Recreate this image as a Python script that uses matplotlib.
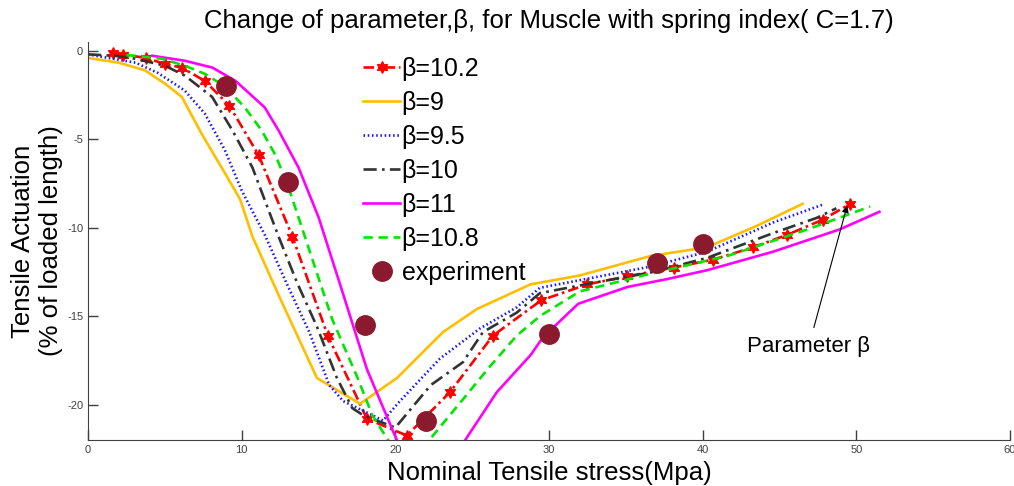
import matplotlib.pyplot as plt

plt.rcParams['font.family'] = ['Liberation Sans', 'DejaVu Sans']
plt.rcParams['axes.unicode_minus'] = False

# simulated actuation curves, stress (MPa) vs actuation (% of loaded length)
b102_x = [1.6, 2.3, 3.8, 5.0, 6.1, 7.6, 9.2, 11.1, 13.3, 15.6, 18.15, 20.75, 23.55, 26.35,
          29.5, 32.5, 35.1, 38.1, 40.7, 43.3, 45.5, 47.8, 49.6]
b102_y = [-0.12, -0.22, -0.4, -0.75, -0.95, -1.7, -3.1, -5.9, -10.5, -16.1, -20.8, -21.75, -19.3, -16.1,
          -14.1, -13.2, -12.75, -12.25, -11.8, -11.1, -10.4, -9.55, -8.65]

b9_x = [0, 2.0, 3.7, 5.0, 6.1, 7.4, 8.9, 9.9, 10.7, 12.5, 14.9, 17.7, 20.1, 23.1, 25.3, 28.8,
        32.0, 36.6, 40.3, 43.5, 46.5]
b9_y = [-0.4, -0.67, -1.1, -1.85, -2.6, -4.7, -6.9, -8.4, -10.5, -14.0, -18.5, -19.95, -18.5, -15.9, -14.6, -13.2,
        -12.7, -11.6, -11.1, -9.9, -8.65]

b95_x = [0, 3.1, 4.55, 6.3, 7.6, 8.9, 10.0, 11.5, 12.9, 14.4, 15.7, 16.6, 19.2, 20.3, 22.9,
         25.5, 27.9, 29.4, 33.0, 36.6, 40.3, 44.6, 47.8]
b95_y = [-0.2, -0.67, -1.25, -2.25, -3.55, -5.6, -7.9, -10.4, -13.1, -15.9, -18.9, -19.8, -20.9, -19.8, -17.4,
         -15.7, -14.5, -13.4, -12.8, -12.2, -11.35, -9.7, -8.7]

b10_x = [0, 1.75, 3.1, 5.0, 6.3, 8.07, 9.4, 10.7, 12.4, 13.6, 14.9, 16.2, 17.2, 17.9, 20.0,
         22.3, 24.4, 25.7, 27.9, 29.4, 33.0, 36.8, 40.3, 44.6, 47.4, 48.7]
b10_y = [-0.2, -0.28, -0.45, -0.84, -1.4, -2.6, -4.5, -6.6, -10.5, -13.1, -15.6, -18.5, -20.2, -20.6, -21.3,
         -18.9, -17.6, -15.9, -14.8, -13.7, -13.1, -12.5, -11.7, -10.3, -9.45, -8.9]

b11_x = [4.2, 6.3, 8.1, 9.6, 11.5, 12.4, 13.7, 15.0, 16.4, 18.15, 19.85, 21.9, 24.7, 26.6,
         28.8, 29.6, 31.9, 35.1, 37.7, 40.3, 44.6, 48.9, 51.5]
b11_y = [-0.28, -0.56, -0.95, -1.7, -3.2, -4.5, -6.6, -9.4, -13.2, -18.0, -21.5, -25.6, -21.8, -19.3,
         -17.2, -16.2, -14.3, -13.35, -12.9, -12.4, -11.35, -10.1, -9.1]

b108_x = [2.5, 3.1, 4.8, 6.3, 7.6, 8.9, 10.2, 11.3, 12.2, 13.0, 13.9, 15.9, 17.5, 18.5, 19.45,
          20.7, 22.4, 24.4, 26.0, 27.9, 29.4, 32.0, 36.6, 41.6, 46.8, 50.9]
b108_y = [-0.25, -0.28, -0.45, -0.84, -1.3, -2.0, -3.2, -4.5, -5.9, -7.6, -9.95, -15.2, -18.4, -20.6, -21.9,
          -23.6, -21.8, -19.7, -18.0, -16.1, -15.0, -13.6, -12.6, -11.6, -10.1, -8.8]

# measured points
exp_x = [9, 13, 18, 22, 30, 37, 40]
exp_y = [-2.0, -7.4, -15.5, -20.9, -16.0, -12.0, -10.9]

x_ticks = [0, 10, 20, 30, 40, 50, 60]
y_ticks = [0, -5, -10, -15, -20]

fig = plt.figure(figsize=(10.14, 4.86), dpi=100)
ax = fig.add_axes([0.0868, 0.0947, 0.9093, 0.8189])

lw = 1.9
ax.plot(b102_x, b102_y, color='red', lw=lw, dashes=(4, 1.5, 1, 1.5),
        marker=(6, 1, 0), markersize=8.5, markerfacecolor='red', markeredgecolor='red',
        label='β=10.2')
ax.plot(b9_x, b9_y, color='#ffbf00', lw=lw, ls='-', label='β=9')
ax.plot(b95_x, b95_y, color='#1a1aff', lw=lw, dashes=(0.6, 1.0), label='β=9.5')
ax.plot(b10_x, b10_y, color='#333333', lw=lw, dashes=(5, 2, 1, 2), label='β=10')
ax.plot(b11_x, b11_y, color='#ff00ff', lw=lw, ls='-', label='β=11')
ax.plot(b108_x, b108_y, color='#00e600', lw=lw, dashes=(3.5, 2.2), label='β=10.8')
ax.plot(exp_x, exp_y, ls='none', marker='o', markersize=14, color='#8c1a2e', label='experiment', zorder=5)

ax.annotate('Parameter β', xy=(49.4, -8.75), xytext=(46.9, -16.7), ha='center', va='center',
            fontsize=16, arrowprops=dict(arrowstyle='-|>', color='black', lw=0.8,
                                         shrinkA=4, shrinkB=0, mutation_scale=10))

ax.set_xlim(0, 60)
ax.set_ylim(-22, 0.5)
ax.set_xticks(x_ticks)
ax.set_yticks(y_ticks)
ax.tick_params(direction='in', length=7, width=1, labelsize=8, labelcolor='#404040', color='#404040')
ax.spines['top'].set_visible(False)
ax.spines['right'].set_visible(False)
for s in ('left', 'bottom'):
    ax.spines[s].set_color('#404040')

ax.set_title('Change of parameter,β, for Muscle with spring index( C=1.7)', fontsize=18.5, pad=10)
ax.set_xlabel('Nominal Tensile stress(Mpa)', fontsize=18.5)
ax.xaxis.set_label_coords(0.5, -0.053)
ax.set_ylabel('Tensile Actuation\n(% of loaded length)', fontsize=18.5)
ax.yaxis.set_label_coords(-0.027, 0.5)

ax.legend(loc='upper left', bbox_to_anchor=(0.298, 0.962), frameon=False, fontsize=18,
          handlelength=1.5, handletextpad=0.05, labelspacing=0.4, borderpad=0, borderaxespad=0,
          markerscale=1.0)

fig.savefig('out.png', dpi=100)
